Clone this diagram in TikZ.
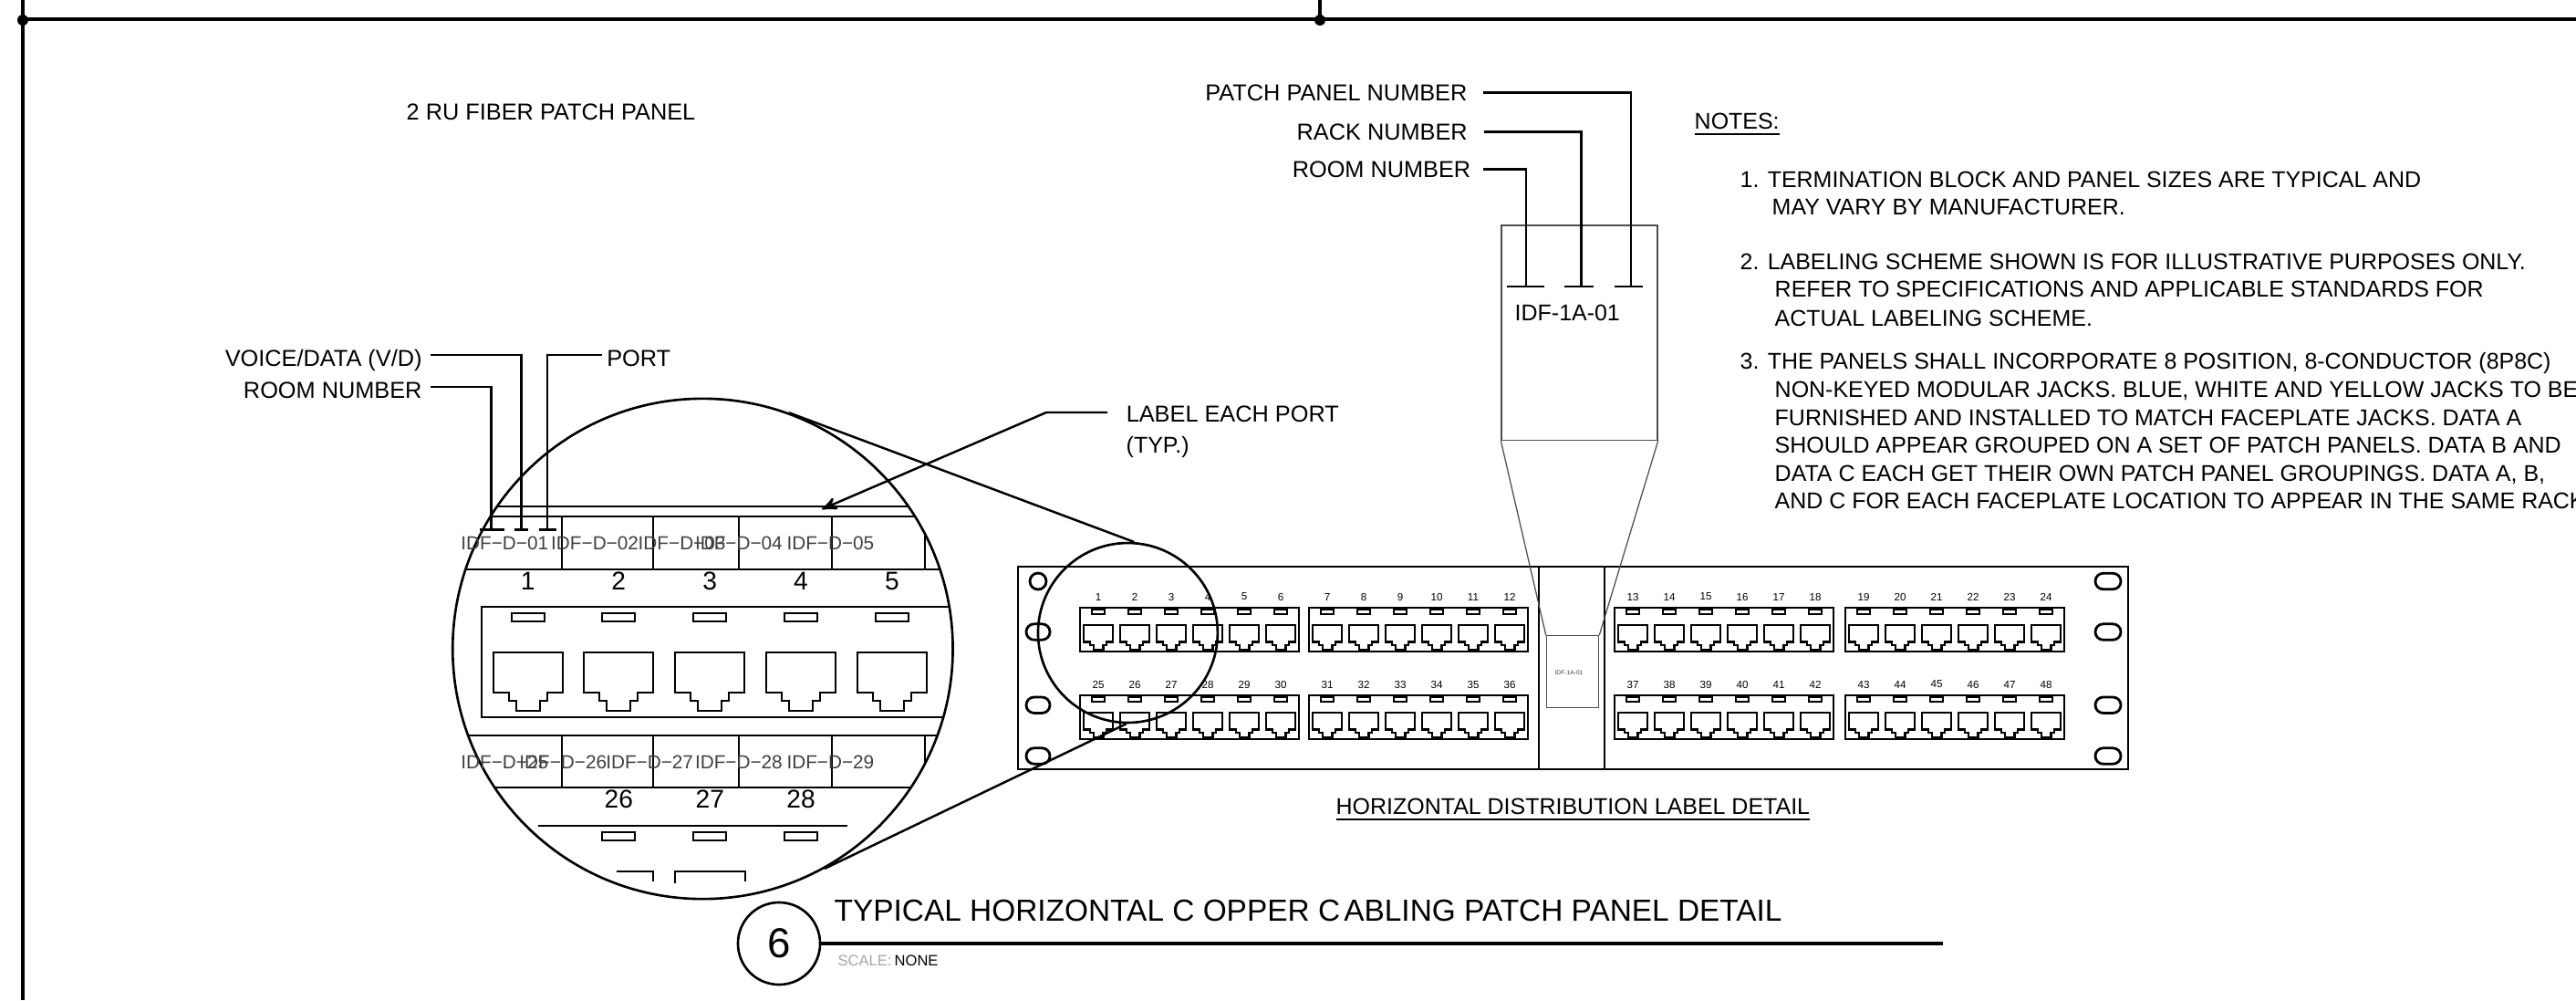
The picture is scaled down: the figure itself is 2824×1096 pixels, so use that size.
\documentclass[tikz,border=0pt]{standalone}
\usepackage{fontspec}
\setmainfont{Liberation Sans}
\usetikzlibrary{arrows,calc,positioning}

\tikzset{
    jack/.pic={\draw[port] (-38,0) -- (38,0) -- (38,44) -- (21,44) -- (21,53) -- (13,53) -- (13,64)
        -- (-13,64) -- (-13,53) -- (-21,53) -- (-21,44) -- (-38,44) -- cycle;},
    port/.style={line width=0.6pt},
    heavy/.style={line width=0.8pt},
    leader/.style={line width=0.7pt},
    fine/.style={line width=0.35pt,draw=black!70},
    slot/.style={heavy,rounded corners=2.45pt},
    lens/.style={draw,circle,line width=0.75pt,inner sep=0pt},
    tag/.style={inner sep=0pt,text height=5pt,text depth=0pt,font=\fontsize{7.1}{8}\selectfont},
    callout/.style={tag,font=\fontsize{7.2}{8}\selectfont},
    drop/.style={text height=7pt},
    note/.style={tag,anchor=west},
    num/.style={inner sep=0pt,font=\fontsize{3.3}{3.5}\selectfont},
    bignum/.style={inner sep=0pt,font=\fontsize{8}{9}\selectfont},
    idf/.style={inner sep=0pt,anchor=west,text=black!75,font=\fontsize{5.9}{6}\selectfont},
}

\begin{document}
\begin{tikzpicture}[>=stealth',x=0.01cm,y=-0.01cm]

    \clip (0,0) rectangle (2824,1096);
    \fill[white] (0,0) rectangle (2824,1096);

    % sheet frame
    \draw[line width=1.3pt] (25,0) -- (25,1096);
    \draw[line width=1.15pt] (25,21) -- (2824,21);
    \draw[line width=1.15pt] (1447,0) -- (1447,21);
    \fill (25,22) circle (6);
    \fill (1447,22) circle (6);

    % panel
    \draw[heavy] (1116,621) rectangle (2333,843);
    \draw[heavy] (1687,621) -- (1687,843);
    \draw[heavy] (1759,621) -- (1759,843);
    \foreach \sy in {637,692.5,772.7,828.5} {
        \draw[slot] (2297,\sy-8.7) rectangle (2325,\sy+8.7);
    }
    \draw[heavy] (1138,637) circle (9);
    \foreach \sy in {692.5,772.7,828.5} {
        \draw[slot] (1125,\sy-8.7) rectangle (1151,\sy+8.7);
    }

    \foreach \bx/\first in {1184/1,1435/7,1770/13,2023/19} {
        \foreach \by/\off in {665.7/0,761.7/24} {
            \draw[port] (\bx,\by) rectangle ++(240,48.6);
            \foreach \i in {0,...,5} {
                \pgfmathtruncatemacro{\pnum}{\first+\off+\i}
                \node[num] (pnum-\pnum) at (\bx+20+40*\i,\by-11.7) {\pnum};
                \draw[port] (\bx+12.7+40*\i,\by+2.2) rectangle ++(14.6,5);
                \pic[scale=0.42] at (\bx+20+40*\i,\by+19.3) {jack};
            }
        }
    }

    % label on panel
    \node[fine,draw,minimum width=0.572cm,minimum height=0.783cm,inner sep=0pt] (strip) at (1724,736) {};
    \node[inner sep=0pt,text=black!75,font=\fontsize{1.9}{2}\selectfont] (strip-text) at (1720,737) {IDF-1A-01};

    % label enlarged
    \node[fine,draw,minimum width=1.71cm,minimum height=2.355cm,inner sep=0pt] (label) at (1731.5,364.7) {};
    \draw[fine] (label.south west) -- (strip.north west);
    \draw[fine] (label.south east) -- (strip.north east);
    \node[note] (label-text) at (1660,342.7) {IDF-1A-01};

    \coordinate (room-tick) at (1673,314);
    \coordinate (rack-tick) at (1733.5,314);
    \coordinate (panel-tick) at (1788,314);
    \node[callout,anchor=east,inner xsep=4.8pt] (panel-no) at (1626,101.7) {PATCH PANEL NUMBER};
    \node[callout,anchor=east,inner xsep=4.9pt] (rack-no) at (1626.7,144.5) {RACK NUMBER};
    \node[callout,anchor=east,inner xsep=3.7pt] (room-no) at (1626,185.3) {ROOM NUMBER};
    \draw[leader] (panel-no.east) -| (panel-tick);
    \draw[leader] (rack-no.east) -| (rack-tick);
    \draw[leader] (room-no.east) -| (room-tick);
    \draw[leader] (1652,314) -- (1693,314);
    \draw[leader] (1715,314) -- (1747,314);
    \draw[leader] (1770,314) -- (1801,314);

    % lens on panel and enlarged part
    \node[lens,minimum size=1.968cm] (lens-small) at (1236.4,693.5) {};
    \node[lens,minimum size=5.48cm] (lens-big) at (770.4,711) {};
    \draw[leader] (lens-big.70) -- (lens-small.86);
    \draw[leader] (lens-big.-61) -- (lens-small.-91);

    \begin{scope}
        \clip (770.4,711) circle (274);
        \draw[port] (400,554.7) -- (1100,554.7);
        \draw[port] (400,566) -- (1100,566);
        \draw[port] (400,624) -- (1100,624);
        \draw[port] (1100,665.3) -- (528,665.3) -- (528,785.7) -- (1100,785.7);
        \draw[port] (400,806) -- (1100,806);
        \draw[port] (400,863) -- (1100,863);
        \foreach \vx in {615.8,716.2,810.3,912,1013.6} {
            \draw[port] (\vx,566) -- (\vx,624);
            \draw[port] (\vx,806) -- (\vx,863);
        }
        \foreach \jx in {578.6,678.3,778.3,878,978} {
            \draw[port] (\jx-18,671.8) rectangle (\jx+18,681.2);
            \pic at (\jx,715) {jack};
        }
        \draw[port] (589.7,905.3) -- (928.6,905.3);
        \foreach \jx in {678.3,778.3,878} {
            \draw[port] (\jx-18,911.8) rectangle (\jx+18,921.2);
        }
        \draw[port] (675.5,955) -- (716,955) -- (716,965.7);
        \draw[port] (740,968) -- (740,955) -- (816.7,955) -- (816.7,965.7);
    \end{scope}

    \foreach \jx/\pnum in {578.6/1,678.3/2,778.3/3,878/4,978/5} {
        \node[bignum] (big-\pnum) at (\jx,636.7) {\pnum};
    }
    \foreach \jx/\pnum in {678.3/26,778.3/27,878/28} {
        \node[bignum] (big-\pnum) at (\jx,875.5) {\pnum};
    }
    \foreach \tx/\txt in {504.7/01,603.5/02,699/03,761.3/04,861.8/05} {
        \node[idf] (idf-\txt) at (\tx,595.5) {IDF−D−\txt};
    }
    \foreach \tx/\txt in {504.7/25,568.7/26,663.6/27,761.3/28,861.8/29} {
        \node[idf] (idf-\txt) at (\tx,835) {IDF−D−\txt};
    }

    % leaders into the lens
    \coordinate (voice-tick) at (571.5,580.4);
    \coordinate (room-d-tick) at (538.7,580.4);
    \coordinate (port-tick) at (600,580.4);
    \node[callout,drop,anchor=east,inner xsep=2.5pt] (voice) at (472,389) {VOICE/DATA (V/D)};
    \node[callout,drop,anchor=east,inner xsep=2.5pt] (room-d) at (472,424) {ROOM NUMBER};
    \node[callout,drop,anchor=west,inner xsep=1.3pt] (port) at (660,389) {PORT};
    \draw[leader] (voice.east) -| (voice-tick);
    \draw[leader] (room-d.east) -| (room-d-tick);
    \draw[leader] (port.west) -| (port-tick);
    \draw[leader] (526.4,580.4) -- (553,580.4);
    \draw[leader] (564,580.4) -- (578.6,580.4);
    \draw[leader] (591,580.4) -- (609.5,580.4);

    \coordinate (each-bend) at (1147,452);
    \coordinate (each-tip) at (901,558);
    \node[callout,anchor=west,inner xsep=5.7pt,text height=6pt] (each) at (1214,452) {LABEL EACH PORT};
    \node[note] (each-typ) at (1234,488) {(TYP.)};
    \draw[leader,->] (each.west) -- (each-bend) -- (each-tip);

    \node[callout,anchor=west] (fiber) at (445,122.5) {2 RU FIBER PATCH PANEL};

    % notes
    \node[note] (notes) at (1857,133) {\underline{NOTES:}};
    \node[note] (note-1-a) at (1907,196.6) {1. TERMINATION BLOCK AND PANEL SIZES ARE TYPICAL AND};
    \node[note] (note-1-b) at (1942,227) {MAY VARY BY MANUFACTURER.};
    \node[note] (note-2-a) at (1907,286.5) {2. LABELING SCHEME SHOWN IS FOR ILLUSTRATIVE PURPOSES ONLY.};
    \node[note] (note-2-b) at (1945,317) {REFER TO SPECIFICATIONS AND APPLICABLE STANDARDS FOR};
    \node[note] (note-2-c) at (1945,349) {ACTUAL LABELING SCHEME.};
    \node[note] (note-3-a) at (1907,396) {3. THE PANELS SHALL INCORPORATE 8 POSITION, 8-CONDUCTOR (8P8C)};
    \node[note] (note-3-b) at (1945,427) {NON-KEYED MODULAR JACKS. BLUE, WHITE AND YELLOW JACKS TO BE};
    \node[note] (note-3-c) at (1945,457.5) {FURNISHED AND INSTALLED TO MATCH FACEPLATE JACKS. DATA A};
    \node[note] (note-3-d) at (1945,488) {SHOULD APPEAR GROUPED ON A SET OF PATCH PANELS. DATA B AND};
    \node[note] (note-3-e) at (1945,519) {DATA C EACH GET THEIR OWN PATCH PANEL GROUPINGS. DATA A, B,};
    \node[note] (note-3-f) at (1945,549) {AND C FOR EACH FACEPLATE LOCATION TO APPEAR IN THE SAME RACK};

    \node[note] (dist-title) at (1464,884) {\underline{HORIZONTAL DISTRIBUTION LABEL DETAIL}};

    % detail title
    \node[draw,circle,line width=0.75pt,minimum size=0.9cm,inner sep=0pt,font=\fontsize{13}{14}\selectfont] (bubble) at (854,1034) {6};
    \coordinate (rule-end) at (2130,1034);
    \draw[line width=1.15pt] (bubble.east) -- (rule-end);
    \node[note,text height=6.8pt,font=\fontsize{9.5}{10}\selectfont] (title) at (914,998) {TYPICAL HORIZONTAL C OPPER C\kern1.2pt ABLING PATCH PANEL DETAIL};
    \node[note,text height=3.4pt,text=black!35,font=\fontsize{4.7}{5}\selectfont] (scale-key) at (918,1052) {SCALE:};
    \node[note,text height=3.4pt,font=\fontsize{4.7}{5}\selectfont] (scale-val) at (980,1052) {NONE};

\end{tikzpicture}
\end{document}
